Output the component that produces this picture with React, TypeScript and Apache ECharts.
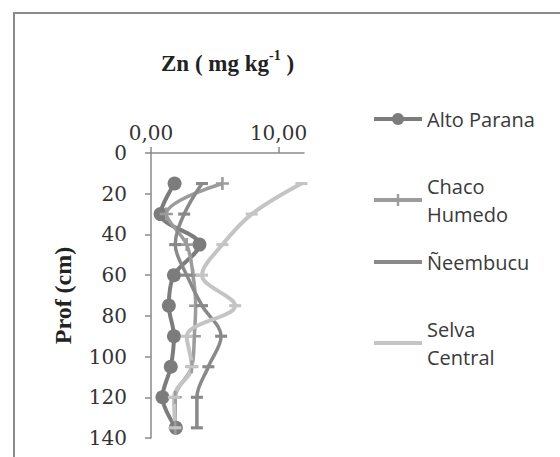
import React, { useEffect, useRef } from 'react';
import * as echarts from 'echarts';

const depths = [15, 30, 45, 60, 75, 90, 105, 120, 135];
const altoParana = [1.85, 0.75, 3.8, 1.8, 1.4, 1.8, 1.55, 0.9, 1.95];
const chacoHumedo = [5.6, 1.2, 2.8, 3.3, 3.5, 3.4, 3.2, 1.9, 1.9];
const neembucu = [4.0, 2.6, 1.9, 2.8, 4.0, 5.5, 4.5, 3.6, 3.6];
const selvaCentral = [11.8, 7.9, 5.6, 4.0, 6.6, 2.8, 3.2, 1.8, 1.9];
const xTickValues = [0, 10];
const yTickValues = [0, 20, 40, 60, 80, 100, 120, 140];

const seriesNames = ['Alto Parana', 'Chaco Humedo', 'Ñeembucu', 'Selva Central'];

const PLUS = 'path://M4,0h2v4h4v2h-4v4h-2v-4h-4v-2h4z';
const DASH = 'path://M0,0h10v2.6h-10z';

const toPairs = (vals: number[]) => vals.map((v, i) => [v, depths[i]]);

export default function App() {
  const ref = useRef<HTMLDivElement>(null);
  useEffect(() => {
    if (!ref.current) return;
    const chart = echarts.init(ref.current, null, { renderer: 'svg' });
    const legendText = {
      fontFamily: 'Open Sans',
      fontSize: 20,
      color: '#3a3a3a',
      lineHeight: 28,
    };
    const legendBase = {
      orient: 'vertical',
      left: 372,
      padding: 0,
      itemWidth: 48,
      itemHeight: 15,
      selectedMode: false,
      symbolKeepAspect: true,
    };
    chart.setOption({
      animation: false,
      backgroundColor: '#ffffff',
      graphic: [
        {
          type: 'rect',
          shape: { x: 14, y: 13, width: 600, height: 500 },
          style: { fill: 'none', stroke: '#8a8a8a', lineWidth: 2 },
          silent: true,
        },
      ],
      title: {
        text: '{a|Zn ( mg kg}{s|-1}{a| )}',
        left: 156,
        top: 43,
        textStyle: {
          rich: {
            a: { fontFamily: 'Liberation Serif', fontWeight: 'bold', fontSize: 23, lineHeight: 30, color: '#222' },
            s: { fontFamily: 'Liberation Serif', fontWeight: 'bold', fontSize: 14, lineHeight: 20, verticalAlign: 'top', color: '#222' },
          },
        },
      },
      legend: [
        { ...legendBase, top: 105, data: [seriesNames[0]], textStyle: legendText, lineStyle: { width: 4 } },
        { ...legendBase, top: 176, data: [seriesNames[1]], formatter: 'Chaco\nHumedo', textStyle: { ...legendText, padding: [0, 0, -28, 0] }, lineStyle: { width: 4 } },
        { ...legendBase, top: 248, data: [seriesNames[2]], textStyle: legendText, lineStyle: { width: 4 }, itemStyle: { opacity: 0 } },
        { ...legendBase, top: 319, data: [seriesNames[3]], formatter: 'Selva\nCentral', textStyle: { ...legendText, padding: [0, 0, -28, 0] }, lineStyle: { width: 4 }, itemStyle: { opacity: 0 } },
      ],
      grid: { left: 151, top: 153, right: 256, bottom: 19, containLabel: false },
      xAxis: {
        type: 'value',
        position: 'top',
        min: 0,
        max: 12,
        interval: 10,
        axisLine: { show: true, lineStyle: { color: '#8a8a8a', width: 1.5 } },
        axisTick: { show: true, inside: false, length: 6, customValues: xTickValues, lineStyle: { color: '#8a8a8a', width: 1.5 } },
        axisLabel: {
          customValues: xTickValues,
          margin: 10,
          fontFamily: 'DejaVu Serif',
          fontSize: 20,
          color: '#333',
          formatter: (v: number) => v.toFixed(2).replace('.', ','),
        },
        splitLine: { show: false },
      },
      yAxis: {
        type: 'value',
        inverse: true,
        min: 0,
        max: 140,
        interval: 20,
        name: 'Prof (cm)',
        nameLocation: 'middle',
        nameGap: 76,
        nameTextStyle: { fontFamily: 'Liberation Serif', fontWeight: 'bold', fontSize: 24, color: '#222' },
        axisLine: { show: true, lineStyle: { color: '#8a8a8a', width: 1.5 } },
        axisTick: { show: true, inside: false, length: 6, customValues: yTickValues, lineStyle: { color: '#8a8a8a', width: 1.5 } },
        axisLabel: {
          customValues: yTickValues,
          margin: 24,
          fontFamily: 'DejaVu Serif',
          fontSize: 20,
          color: '#333',
        },
        splitLine: { show: false },
      },
      series: [
        {
          name: seriesNames[0],
          type: 'line',
          data: toPairs(altoParana),
          smooth: 0.35,
          symbol: 'circle',
          symbolSize: 14,
          itemStyle: { color: '#7c7c7c' },
          lineStyle: { color: '#7c7c7c', width: 4 },
        },
        {
          name: seriesNames[1],
          type: 'line',
          data: toPairs(chacoHumedo),
          smooth: 0.35,
          symbol: PLUS,
          symbolSize: 13,
          itemStyle: { color: '#9c9c9c' },
          lineStyle: { color: '#9c9c9c', width: 3.5 },
        },
        {
          name: seriesNames[2],
          type: 'line',
          data: toPairs(neembucu),
          smooth: 0.35,
          symbol: DASH,
          symbolSize: 12,
          symbolKeepAspect: true,
          itemStyle: { color: '#898989' },
          lineStyle: { color: '#898989', width: 3.5 },
        },
        {
          name: seriesNames[3],
          type: 'line',
          data: toPairs(selvaCentral),
          smooth: 0.35,
          symbol: DASH,
          symbolSize: 12,
          symbolKeepAspect: true,
          itemStyle: { color: '#c4c4c4' },
          lineStyle: { color: '#c4c4c4', width: 4 },
        },
      ],
    });
    return () => chart.dispose();
  }, []);
  return (
    <div
      ref={ref}
      style={{ position: 'fixed', left: 0, top: 0, width: 560, height: 457, background: '#fff' }}
    />
  );
}
